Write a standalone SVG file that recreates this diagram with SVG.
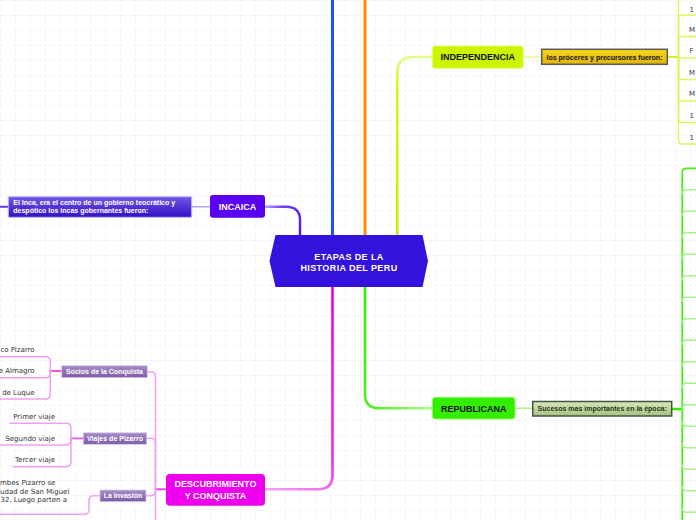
<svg xmlns="http://www.w3.org/2000/svg" width="696" height="520" viewBox="0 0 696 520">
<defs>
<pattern id="grid" width="15" height="15" patternUnits="userSpaceOnUse">
<path d="M15 0H0V15" fill="none" stroke="#f0f0f0" stroke-width="1"/>
</pattern>
<linearGradient id="gGold" x1="0" y1="0" x2="0" y2="1"><stop offset="0" stop-color="#f8d820"/><stop offset="1" stop-color="#e0b400"/></linearGradient>
<linearGradient id="gOlive" x1="0" y1="0" x2="0" y2="1"><stop offset="0" stop-color="#dbe6b8"/><stop offset="1" stop-color="#a9bf82"/></linearGradient>
<linearGradient id="gInca" x1="0" y1="0" x2="0" y2="1"><stop offset="0" stop-color="#7058e6"/><stop offset="1" stop-color="#3410c4"/></linearGradient>
<linearGradient id="gMauve" x1="0" y1="0" x2="0" y2="1"><stop offset="0" stop-color="#a88cc8"/><stop offset="1" stop-color="#7c5ca4"/></linearGradient>
<linearGradient id="lYel" gradientUnits="userSpaceOnUse" x1="397" y1="235" x2="432" y2="57"><stop offset="0" stop-color="#c8f000"/><stop offset="0.8" stop-color="#d0f820"/><stop offset="1" stop-color="#e4ff90"/></linearGradient>
<linearGradient id="lPur" gradientUnits="userSpaceOnUse" x1="300" y1="235" x2="265" y2="206"><stop offset="0" stop-color="#5a10ee"/><stop offset="0.7" stop-color="#7040f4"/><stop offset="1" stop-color="#b8a0ff"/></linearGradient>
<linearGradient id="lMag" gradientUnits="userSpaceOnUse" x1="332" y1="287" x2="265" y2="489"><stop offset="0" stop-color="#e800e0"/><stop offset="0.8" stop-color="#ec30ec"/><stop offset="1" stop-color="#f4a0f4"/></linearGradient>
<linearGradient id="lGrn" gradientUnits="userSpaceOnUse" x1="365" y1="287" x2="432" y2="408"><stop offset="0" stop-color="#30ee00"/><stop offset="0.8" stop-color="#50f020"/><stop offset="1" stop-color="#b0f890"/></linearGradient>
</defs>
<style>
.node text{font-family:"Liberation Sans",Arial,sans-serif;font-weight:bold;text-anchor:middle}
.big{font-size:9px}
.sm{font-size:7px}
.leaf{font-family:"DejaVu Sans",Verdana,sans-serif;font-size:7px;fill:#333}
.c{fill:none;stroke-linecap:round}
.yl{stroke:#dcf560;stroke-width:1.5}
.gl{stroke:#a8f090;stroke-width:1.5}
.ml{stroke:#f0a0f0;stroke-width:1.5}
</style>
<rect width="696" height="520" fill="#ffffff"/>
<rect width="696" height="520" fill="url(#grid)"/>

<g id="connectors">
<path class="c" d="M332.5 0V235" stroke="#1a55ee" stroke-width="3"/>
<path class="c" d="M365 0V235" stroke="#ff8c00" stroke-width="3"/>
<path class="c" d="M397.3 235V73Q397.3 57 413 57H432" stroke="url(#lYel)" stroke-width="2.6"/>
<path class="c" d="M300 235V220Q300 206.7 286 206.7H265" stroke="url(#lPur)" stroke-width="2.4"/>
<path class="c" d="M332.5 287V475Q332.5 489.3 318 489.3H265" stroke="url(#lMag)" stroke-width="2.6"/>
<path class="c" d="M365 287V394Q365 408.3 379 408.3H432" stroke="url(#lGrn)" stroke-width="2.6"/>
<path class="c" d="M523.3 57H541.7" stroke="#e0ff90" stroke-width="1.5"/>
<path class="c" d="M210 206.7H191.7" stroke="#b8a0ff" stroke-width="1.5"/>
<path class="c" d="M515 408.3H532.7" stroke="#b0f090" stroke-width="1.5"/>
<path class="c" d="M0 206.7H8.3" stroke="#6633ff" stroke-width="2"/>
<path class="c" d="M667.3 57H678.5" stroke="#d0f020" stroke-width="2"/>
<path class="c yl" d="M678.5 57V-2.5Q678.5 -6.5 682.5 -6.5H700"/>
<path class="c yl" d="M678.5 57V19Q678.5 15 682.5 15H700"/>
<path class="c yl" d="M678.5 57V40.5Q678.5 36.5 682.5 36.5H700"/>
<path class="c yl" d="M678.5 57V58H700"/>
<path class="c yl" d="M678.5 57V75.5Q678.5 79.5 682.5 79.5H700"/>
<path class="c yl" d="M678.5 57V97Q678.5 101 682.5 101H700"/>
<path class="c yl" d="M678.5 57V118.5Q678.5 122.5 682.5 122.5H700"/>
<path class="c yl" d="M678.5 57V140Q678.5 144 682.5 144H700"/>
<path class="c" d="M671.7 409H682.3" stroke="#30ee00" stroke-width="2.5"/>
<path class="c" d="M682.3 409V172.3Q682.3 168.3 686.3 168.3H700" stroke="#44ee10" stroke-width="1.8"/>
<path class="c" d="M682.3 409V530" stroke="#44ee10" stroke-width="1.8"/>
<path class="c gl" d="M682.3 193.8Q682.3 189.8 686.3 189.8H700"/>
<path class="c gl" d="M682.3 215.3Q682.3 211.3 686.3 211.3H700"/>
<path class="c gl" d="M682.3 236.8Q682.3 232.8 686.3 232.8H700"/>
<path class="c gl" d="M682.3 258.3Q682.3 254.3 686.3 254.3H700"/>
<path class="c gl" d="M682.3 279.8Q682.3 275.8 686.3 275.8H700"/>
<path class="c gl" d="M682.3 301.3Q682.3 297.3 686.3 297.3H700"/>
<path class="c gl" d="M682.3 322.8Q682.3 318.8 686.3 318.8H700"/>
<path class="c gl" d="M682.3 344.3Q682.3 340.3 686.3 340.3H700"/>
<path class="c gl" d="M682.3 365.8Q682.3 361.8 686.3 361.8H700"/>
<path class="c gl" d="M682.3 387.3Q682.3 383.3 686.3 383.3H700"/>
<path class="c gl" d="M682.3 408.8Q682.3 404.8 686.3 404.8H700"/>
<path class="c gl" d="M682.3 422.3Q682.3 426.3 686.3 426.3H700"/>
<path class="c gl" d="M682.3 443.8Q682.3 447.8 686.3 447.8H700"/>
<path class="c gl" d="M682.3 465.3Q682.3 469.3 686.3 469.3H700"/>
<path class="c gl" d="M682.3 486.8Q682.3 490.8 686.3 490.8H700"/>
<path class="c gl" d="M682.3 508.3Q682.3 512.3 686.3 512.3H700"/>
<path class="c" d="M166 489.3H155.5" stroke="#ee44ee" stroke-width="2"/>
<path class="c ml" d="M155.5 489.3V376.7Q155.5 371.7 150.5 371.7H147.3"/>
<path class="c ml" d="M155.5 489.3V443.3Q155.5 438.3 150.5 438.3H146.7"/>
<path class="c ml" d="M155.5 489.3V490.7Q155.5 495.7 150.5 495.7H146"/>
<path class="c ml" d="M155.5 489.3V530"/>
<path class="c" d="M61.7 371H50.3" stroke="#ee55ee" stroke-width="1.8"/>
<path class="c ml" d="M50.3 371V361.7Q50.3 356.7 45.3 356.7H-5"/>
<path class="c ml" d="M50.3 371V372.7Q50.3 377.7 45.3 377.7H-5"/>
<path class="c ml" d="M50.3 371V394Q50.3 399 45.3 399H-5"/>
<path class="c" d="M83.3 438.3H71" stroke="#ee55ee" stroke-width="1.8"/>
<path class="c ml" d="M71 438.3V428.3Q71 423.3 66 423.3H10"/>
<path class="c ml" d="M71 438.3V440Q71 445 66 445H-5"/>
<path class="c ml" d="M71 438.3V461.7Q71 466.7 66 466.7H13"/>
<path class="c ml" d="M100 495.7H94Q89 495.7 89 500.7V509.3Q89 514.3 84 514.3H-5"/>
</g>

<g id="central" class="node">
<polygon points="269.5,261 275.5,235 422.5,235 428,261 422.5,287 275.5,287" fill="#3412dc"/>
<text class="big" x="349" y="259.5" fill="#fff" font-size="9.6" letter-spacing="0.4">ETAPAS DE LA</text>
<text class="big" x="349" y="271" fill="#fff" font-size="9.6" letter-spacing="0.4">HISTORIA DEL PERU</text>
</g>

<g id="independencia" class="node">
<rect x="432.3" y="46" width="91" height="22.3" rx="3" fill="#ccf500" stroke="#e0ff70" stroke-width="1"/>
<text class="big" x="477.8" y="60.3" fill="#111">INDEPENDENCIA</text>
</g>

<g id="proceres" class="node">
<rect x="541.7" y="49.3" width="125.6" height="15" fill="url(#gGold)" stroke="#5a5a5a" stroke-width="1.5"/>
<text class="sm" x="604.5" y="59.5" fill="#111">los próceres y precursores fueron:</text>
</g>

<g id="proceres-items">
<text class="leaf" x="689.5" y="11.5">1</text>
<text class="leaf" x="689" y="32">M</text>
<text class="leaf" x="689.5" y="53">F</text>
<text class="leaf" x="689" y="74.5">M</text>
<text class="leaf" x="689" y="96">M</text>
<text class="leaf" x="689.5" y="117.5">1</text>
<text class="leaf" x="689.5" y="139.5">1</text>
</g>

<g id="incaica" class="node">
<rect x="210" y="195" width="55" height="22.7" rx="3" fill="#5a00f0"/>
<text class="big" x="237.5" y="209.8" fill="#fff">INCAICA</text>
</g>

<g id="inca-texto" class="node">
<rect x="8.3" y="196.7" width="183.4" height="20.6" fill="url(#gInca)" stroke="#c8b8ff" stroke-width="1"/>
<text class="sm" x="13.3" y="204.6" fill="#fff" style="text-anchor:start">El Inca, era el centro de un gobierno teocrático y</text>
<text class="sm" x="13.3" y="213.4" fill="#fff" style="text-anchor:start">despótico los incas gobernantes fueron:</text>
</g>

<g id="republicana" class="node">
<rect x="432.3" y="397.3" width="82.7" height="21.7" rx="3" fill="#33ee00" stroke="#90ff60" stroke-width="1"/>
<text class="big" x="473.7" y="411.5" fill="#111">REPUBLICANA</text>
</g>

<g id="sucesos" class="node">
<rect x="532.7" y="401.5" width="139" height="14.5" fill="url(#gOlive)" stroke="#3c5a3c" stroke-width="1.5"/>
<text class="sm" x="602.2" y="411.3" fill="#1e3a1e">Sucesos mas importantes en la época:</text>
</g>

<g id="descubrimiento" class="node">
<rect x="166" y="474" width="99" height="31.7" rx="4" fill="#ee00ee"/>
<text class="big" x="215.5" y="487.3" fill="#fff">DESCUBRIMIENTO</text>
<text class="big" x="215.5" y="498.8" fill="#fff">Y CONQUISTA</text>
</g>

<g id="socios" class="node">
<rect x="61.7" y="365.7" width="85.6" height="12" fill="url(#gMauve)" stroke="#d8c8e8" stroke-width="0.8"/>
<text class="sm" x="104.5" y="374.2" fill="#fff">Socios de la Conquista</text>
</g>
<g id="socios-items">
<text class="leaf" x="34.5" y="351.6" text-anchor="end">co Pizarro</text>
<text class="leaf" x="34.5" y="372.6" text-anchor="end">e Almagro</text>
<text class="leaf" x="34.5" y="394.8" text-anchor="end">de Luque</text>
</g>

<g id="viajes" class="node">
<rect x="83.3" y="432.8" width="63.4" height="11.5" fill="url(#gMauve)" stroke="#d8c8e8" stroke-width="0.8"/>
<text class="sm" x="115" y="441" fill="#fff">Viajes de Pizarro</text>
</g>
<g id="viajes-items">
<text class="leaf" x="55" y="419.2" text-anchor="end">Primer viaje</text>
<text class="leaf" x="55" y="440.8" text-anchor="end">Segundo viaje</text>
<text class="leaf" x="55" y="461.8" text-anchor="end">Tercer viaje</text>
</g>

<g id="invasion" class="node">
<rect x="100" y="490" width="46" height="11.7" fill="url(#gMauve)" stroke="#d8c8e8" stroke-width="0.8"/>
<text class="sm" x="123" y="498.4" fill="#fff">La Invasión</text>
</g>
<g id="invasion-texto">
<text class="leaf" x="0" y="485.2">mbes Pizarro se</text>
<text class="leaf" x="0" y="494">udad de San Miguel</text>
<text class="leaf" x="0.5" y="501.8">32, Luego parten a</text>
</g>
</svg>
